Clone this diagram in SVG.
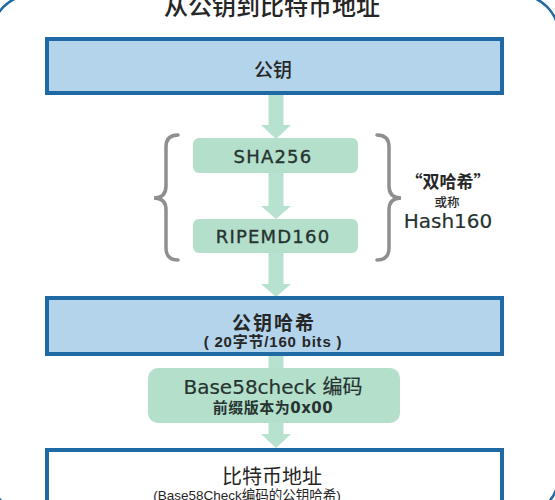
<svg xmlns="http://www.w3.org/2000/svg" width="555" height="500" viewBox="0 0 555 500">
<style>
.blue{fill:#b3d4eb;stroke:#1f6aa5;stroke-width:4}
.white{fill:#ffffff;stroke:#1f6aa5;stroke-width:4}
.green{fill:#b3dfcb}
.arrow{fill:#b8e2d0}
.brace{fill:none;stroke:#8f8f8f;stroke-width:3.5;stroke-linecap:round}
.cjk{font-family:"Noto Sans CJK SC","DejaVu Sans",sans-serif;fill:#262626;text-anchor:middle;dominant-baseline:central}
.lat{font-family:"DejaVu Sans","Noto Sans CJK SC",sans-serif;fill:#263330;stroke:#263330;stroke-width:0.35;text-anchor:middle;dominant-baseline:central}
.ari{font-family:"Liberation Sans","Noto Sans CJK SC",sans-serif;fill:#262626;text-anchor:middle;dominant-baseline:central}
</style>
<rect x="-8" y="-5" width="566.6" height="520.6" rx="40" fill="#ffffff" stroke="#1f6aa5" stroke-width="2.5"/>
<text x="272" y="15" class="cjk" style="font-size:24px;font-weight:500;dominant-baseline:auto">从公钥到比特币地址</text>
<g id="connectors">
<polygon class="arrow" points="268.5,93 283.5,93 283.5,125 291,125 276,139 261,125 268.5,125"/>
<polygon class="arrow" points="268.5,173 283.5,173 283.5,206 291,206 276,219 261,206 268.5,206"/>
<polygon class="arrow" points="268.5,253 283.5,253 283.5,284 291,284 276,297 261,284 268.5,284"/>
<rect class="arrow" x="268.5" y="354" width="15" height="15"/>
<polygon class="arrow" points="268.5,423 283.5,423 283.5,434 291,434 276,448 261,434 268.5,434"/>
</g>
<g id="n-pubkey">
<rect class="blue" x="47" y="39" width="455" height="54"/>
<text x="273" y="68" class="cjk" style="font-size:19px;font-weight:500">公钥</text>
</g>
<g id="n-sha256">
<rect class="green" x="193" y="138" width="165" height="35" rx="6"/>
<text x="273" y="156" class="lat" style="font-size:18px;letter-spacing:1.2px">SHA256</text>
</g>
<g id="n-ripemd">
<rect class="green" x="193" y="219" width="165" height="34" rx="6"/>
<text x="273" y="236.5" class="lat" style="font-size:18px;letter-spacing:1.2px">RIPEMD160</text>
</g>
<g id="n-hash160-label">
<path class="brace" d="M178,135 Q166,135 166,147 L166,186 Q166,198 154,198 Q166,198 166,210 L166,248 Q166,260 178,260"/>
<path class="brace" d="M377,135 Q389,135 389,147 L389,186 Q389,198 401,198 Q389,198 389,210 L389,248 Q389,260 377,260"/>
<text x="448" y="180" class="cjk" style="font-size:17px;font-weight:bold">“双哈希”</text>
<text x="447" y="201" class="cjk" style="font-size:12.5px;font-weight:500">或称</text>
<text x="448" y="221" class="lat" style="font-size:20px;stroke-width:0.2">Hash160</text>
</g>
<g id="n-pkh">
<rect class="blue" x="47" y="298" width="455" height="56"/>
<text x="274" y="321.5" class="cjk" style="font-size:19px;font-weight:bold;letter-spacing:2px">公钥哈希</text>
<text x="273" y="341.5" class="ari" style="font-size:15px;font-weight:bold;letter-spacing:0.8px">( 20字节/160 bits )</text>
</g>
<g id="n-base58">
<rect class="green" x="148" y="368" width="252" height="55" rx="10"/>
<text x="273" y="387" class="lat" style="font-size:20px;stroke-width:0.2">Base58check 编码</text>
<text x="273" y="407.5" class="lat" style="font-size:15px;font-weight:bold;stroke-width:0;letter-spacing:0.5px">前缀版本为0x00</text>
</g>
<g id="n-address">
<rect class="white" x="47" y="450" width="455" height="80"/>
<text x="272" y="475" class="cjk" style="font-size:20px">比特币地址</text>
<text x="247" y="495" class="ari" style="font-size:13.5px">(Base58Check编码的公钥哈希)</text>
</g>
</svg>
